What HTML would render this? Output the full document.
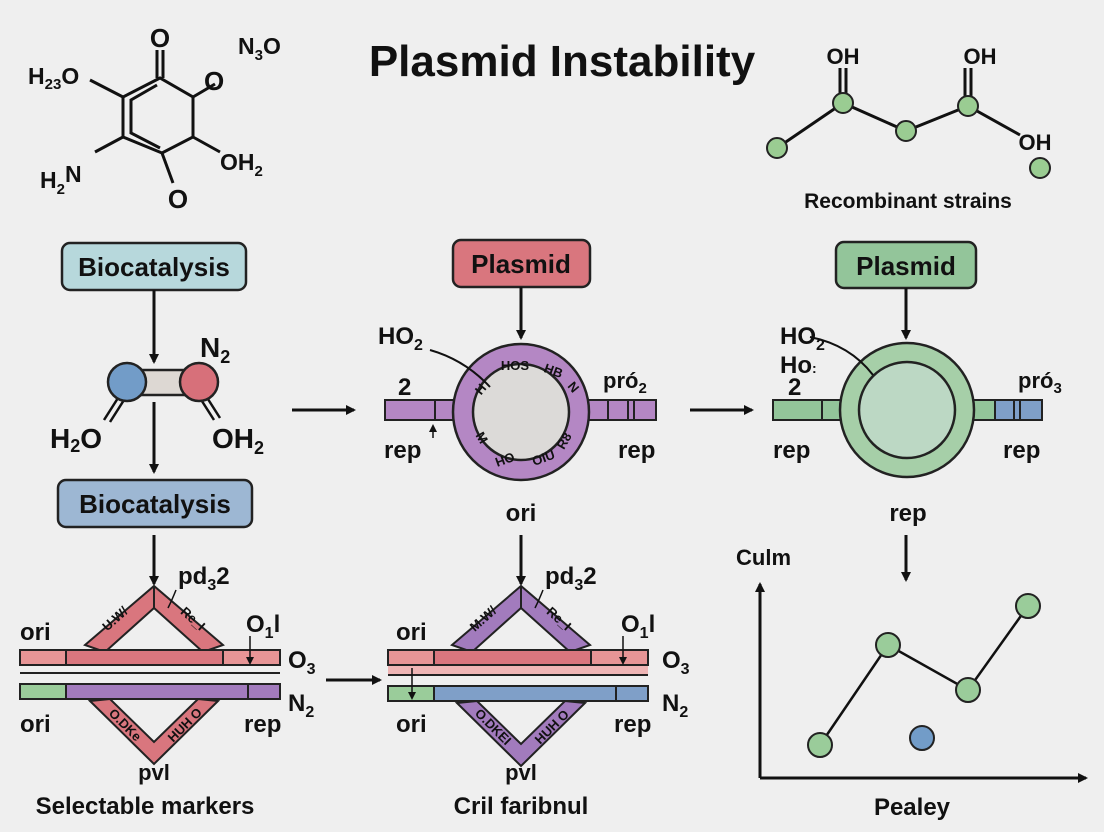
<!DOCTYPE html>
<html><head><meta charset="utf-8"><style>
html,body{margin:0;padding:0;background:#efefef;}
svg{display:block;font-family:"Liberation Sans",sans-serif;}
text{fill:#111;font-weight:bold;}
</style></head><body>
<svg width="1104" height="832" viewBox="0 0 1104 832" xmlns="http://www.w3.org/2000/svg">
<defs>
<marker id="ah" markerWidth="10" markerHeight="10" refX="8" refY="5" orient="auto" markerUnits="userSpaceOnUse">
<path d="M0,0 L10,5 L0,10 z" fill="#111"/></marker>
<marker id="ahs" markerWidth="8" markerHeight="8" refX="6" refY="4" orient="auto" markerUnits="userSpaceOnUse">
<path d="M0,0 L8,4 L0,8 z" fill="#111"/></marker>
</defs>
<rect width="1104" height="832" fill="#efefef"/>
<text x="562" y="76" font-size="44" text-anchor="middle">Plasmid Instability</text>

<!-- left molecule -->
<g stroke="#111" stroke-width="3" fill="none">
<polygon points="160,78 123,97 123,137 162,153 193,137 193,97"/>
<polyline points="157,85 131,100 131,133 160,148"/>
<line x1="157" y1="50" x2="157" y2="78"/><line x1="163" y1="50" x2="163" y2="78"/>
<line x1="123" y1="97" x2="90" y2="80"/>
<line x1="193" y1="97" x2="215" y2="84"/>
<line x1="193" y1="137" x2="220" y2="152"/>
<line x1="123" y1="137" x2="95" y2="152"/>
<line x1="162" y1="153" x2="173" y2="183"/>
</g>
<text x="160" y="47" font-size="26" text-anchor="middle">O</text>
<text x="28" y="84" font-size="23">H<tspan font-size="15" dy="5">23</tspan><tspan dy="-5">O</tspan></text>
<text x="238" y="54" font-size="23">N<tspan font-size="15" dy="6">3</tspan><tspan dy="-6">O</tspan></text>
<text x="204" y="90" font-size="26">O</text>
<text x="220" y="170" font-size="23">OH<tspan font-size="15" dy="6">2</tspan></text>
<text x="40" y="188" font-size="23">H<tspan font-size="15" dy="6">2</tspan><tspan dy="-12">N</tspan></text>
<text x="178" y="208" font-size="26" text-anchor="middle">O</text>

<!-- right molecule -->
<g stroke="#111" stroke-width="3" fill="none">
<polyline points="777,148 843,103 906,131 968,106 1020,135"/>
<line x1="840" y1="68" x2="840" y2="95"/><line x1="846" y1="68" x2="846" y2="95"/>
<line x1="965" y1="68" x2="965" y2="98"/><line x1="971" y1="68" x2="971" y2="98"/>
</g>
<g fill="#9acc92" stroke="#222" stroke-width="2">
<circle cx="777" cy="148" r="10"/><circle cx="843" cy="103" r="10"/><circle cx="906" cy="131" r="10"/><circle cx="968" cy="106" r="10"/><circle cx="1040" cy="168" r="10"/>
</g>
<text x="843" y="64" font-size="22" text-anchor="middle">OH</text>
<text x="980" y="64" font-size="22" text-anchor="middle">OH</text>
<text x="1035" y="150" font-size="22" text-anchor="middle">OH</text>
<text x="908" y="208" font-size="21" text-anchor="middle">Recombinant strains</text>

<!-- left column -->
<rect x="62" y="243" width="184" height="47" rx="8" fill="#b7d8dc" stroke="#222" stroke-width="2.5"/>
<text x="154" y="276" font-size="26" text-anchor="middle">Biocatalysis</text>
<line x1="154" y1="290" x2="154" y2="362" stroke="#111" stroke-width="3" marker-end="url(#ah)"/>
<g stroke="#111" stroke-width="2.5">
<line x1="118" y1="398" x2="104" y2="420"/><line x1="124" y1="400" x2="110" y2="422"/>
<line x1="200" y1="398" x2="214" y2="420"/><line x1="206" y1="396" x2="220" y2="418"/>
</g>
<rect x="138" y="370" width="50" height="25" fill="#ddd8d3" stroke="#222" stroke-width="2.5"/>
<circle cx="127" cy="382" r="19" fill="#729cc8" stroke="#222" stroke-width="2.5"/>
<circle cx="199" cy="382" r="19" fill="#d7707a" stroke="#222" stroke-width="2.5"/>
<text x="200" y="357" font-size="28">N<tspan font-size="18" dy="6">2</tspan></text>
<text x="50" y="448" font-size="28">H<tspan font-size="18" dy="4">2</tspan><tspan dy="-4">O</tspan></text>
<text x="212" y="448" font-size="28">OH<tspan font-size="18" dy="6">2</tspan></text>
<line x1="154" y1="402" x2="154" y2="472" stroke="#111" stroke-width="3" marker-end="url(#ah)"/>
<rect x="58" y="480" width="194" height="47" rx="8" fill="#9db7d3" stroke="#222" stroke-width="2.5"/>
<text x="155" y="513" font-size="26" text-anchor="middle">Biocatalysis</text>
<line x1="154" y1="535" x2="154" y2="584" stroke="#111" stroke-width="3" marker-end="url(#ah)"/>

<line x1="292" y1="410" x2="354" y2="410" stroke="#111" stroke-width="3" marker-end="url(#ah)"/>
<line x1="690" y1="410" x2="752" y2="410" stroke="#111" stroke-width="3" marker-end="url(#ah)"/>

<!-- middle plasmid -->
<rect x="453" y="240" width="137" height="47" rx="8" fill="#d9767e" stroke="#222" stroke-width="2.5"/>
<text x="521" y="273" font-size="26" text-anchor="middle">Plasmid</text>
<line x1="521" y1="287" x2="521" y2="338" stroke="#111" stroke-width="3" marker-end="url(#ah)"/>
<rect x="385" y="400" width="90" height="20" fill="#b487c4" stroke="#222" stroke-width="2"/>
<line x1="435" y1="400" x2="435" y2="420" stroke="#222" stroke-width="2"/>
<rect x="565" y="400" width="91" height="20" fill="#b487c4" stroke="#222" stroke-width="2"/>
<line x1="608" y1="400" x2="608" y2="420" stroke="#222" stroke-width="2"/><line x1="628" y1="400" x2="628" y2="420" stroke="#222" stroke-width="2"/><line x1="634" y1="400" x2="634" y2="420" stroke="#222" stroke-width="2"/>
<circle cx="521" cy="412" r="68" fill="#b487c4" stroke="#222" stroke-width="2.5"/>
<circle cx="521" cy="412" r="48" fill="#dcdad8" stroke="#222" stroke-width="2.5"/>
<g font-size="13" text-anchor="middle">
<text x="515" y="370">HOS</text><text x="552" y="375" transform="rotate(20 552 375)">HB</text><text x="484" y="392" transform="rotate(-50 484 392)">H</text><text x="570" y="390" transform="rotate(50 570 390)">N</text>
<text x="478" y="440" transform="rotate(60 478 440)">M</text><text x="505" y="465" transform="rotate(160 505 460)">OH</text><text x="545" y="462" transform="rotate(-20 545 462)">OIU</text><text x="568" y="443" transform="rotate(-60 568 443)">R8</text></g>
<path d="M430,350 Q465,360 490,387" stroke="#111" stroke-width="2" fill="none"/>
<text x="378" y="344" font-size="24">HO<tspan font-size="16" dy="6">2</tspan></text>
<text x="398" y="395" font-size="24">2</text>
<line x1="433" y1="438" x2="433" y2="426" stroke="#111" stroke-width="1.5" marker-end="url(#ahs)"/>
<text x="384" y="458" font-size="24">rep</text>
<text x="603" y="388" font-size="22">pró<tspan font-size="15" dy="5">2</tspan></text>
<text x="618" y="458" font-size="24">rep</text>
<text x="521" y="521" font-size="24" text-anchor="middle">ori</text>
<line x1="521" y1="535" x2="521" y2="584" stroke="#111" stroke-width="3" marker-end="url(#ah)"/>

<!-- right plasmid -->
<rect x="836" y="242" width="140" height="46" rx="8" fill="#93c59a" stroke="#222" stroke-width="2.5"/>
<text x="906" y="275" font-size="26" text-anchor="middle">Plasmid</text>
<line x1="906" y1="288" x2="906" y2="338" stroke="#111" stroke-width="3" marker-end="url(#ah)"/>
<rect x="773" y="400" width="90" height="20" fill="#93c59a" stroke="#222" stroke-width="2"/>
<line x1="822" y1="400" x2="822" y2="420" stroke="#222" stroke-width="2"/>
<rect x="950" y="400" width="92" height="20" fill="#93c59a" stroke="#222" stroke-width="2"/>
<rect x="995" y="400" width="47" height="20" fill="#7f9fc8" stroke="#222" stroke-width="2"/>
<line x1="1014" y1="400" x2="1014" y2="420" stroke="#222" stroke-width="2"/><line x1="1020" y1="400" x2="1020" y2="420" stroke="#222" stroke-width="2"/>
<circle cx="907" cy="410" r="67" fill="#a6cfa8" stroke="#222" stroke-width="2.5"/>
<circle cx="907" cy="410" r="48" fill="#bcd8c4" stroke="#222" stroke-width="2.5"/>
<path d="M810,337 Q850,345 873,375" stroke="#111" stroke-width="2" fill="none"/>
<text x="780" y="344" font-size="24">HO<tspan font-size="16" dy="6">2</tspan></text>
<text x="780" y="373" font-size="24">Ho<tspan font-size="14">:</tspan></text>
<text x="788" y="395" font-size="24">2</text>
<text x="773" y="458" font-size="24">rep</text>
<text x="1018" y="388" font-size="22">pró<tspan font-size="15" dy="5">3</tspan></text>
<text x="1003" y="458" font-size="24">rep</text>
<text x="908" y="521" font-size="24" text-anchor="middle">rep</text>
<line x1="906" y1="535" x2="906" y2="580" stroke="#111" stroke-width="3" marker-end="url(#ah)"/>

<!-- bottom left construct -->
<path d="M85,645 L154,586 L223,645 L203,652 L154,608 L105,652 Z" fill="#d9767e" stroke="#222" stroke-width="2"/>
<line x1="154" y1="586" x2="154" y2="608" stroke="#222" stroke-width="2"/>
<rect x="20" y="650" width="260" height="15" fill="#e79596" stroke="#222" stroke-width="2"/>
<rect x="66" y="650" width="157" height="15" fill="#d9767e" stroke="#222" stroke-width="2"/>
<line x1="20" y1="673" x2="280" y2="673" stroke="#222" stroke-width="2"/>
<rect x="20" y="684" width="260" height="15" fill="#a27bbd" stroke="#222" stroke-width="2"/>
<rect x="20" y="684" width="46" height="15" fill="#9acc9a" stroke="#222" stroke-width="2"/>
<line x1="248" y1="684" x2="248" y2="699" stroke="#222" stroke-width="2"/>
<path d="M90,701 L154,764 L218,701 L198,699 L154,742 L110,699 Z" fill="#d9767e" stroke="#222" stroke-width="2"/>
<line x1="250" y1="636" x2="250" y2="663" stroke="#111" stroke-width="1.5" marker-end="url(#ahs)"/>
<g font-size="13" text-anchor="middle"><text x="118" y="622" transform="rotate(-42 118 622)">U.W/</text><text x="190" y="622" transform="rotate(42 190 622)">Re_I</text>
<text x="122" y="728" transform="rotate(45 122 728)">O.DKe</text><text x="188" y="728" transform="rotate(-45 188 728)">HUH O</text></g>
<path d="M176,590 Q172,600 168,608" stroke="#111" stroke-width="1.5" fill="none"/>
<text x="178" y="584" font-size="24">pd<tspan font-size="16" dy="6">3</tspan><tspan dy="-6">2</tspan></text>
<text x="20" y="640" font-size="24">ori</text>
<text x="20" y="732" font-size="24">ori</text>
<text x="246" y="632" font-size="24">O<tspan font-size="16" dy="6">1</tspan><tspan dy="-6">l</tspan></text>
<text x="288" y="668" font-size="24">O<tspan font-size="16" dy="6">3</tspan></text>
<text x="288" y="711" font-size="24">N<tspan font-size="16" dy="6">2</tspan></text>
<text x="244" y="732" font-size="24">rep</text>
<text x="154" y="780" font-size="22" text-anchor="middle">pvl</text>
<text x="145" y="814" font-size="24" text-anchor="middle">Selectable markers</text>

<line x1="326" y1="680" x2="380" y2="680" stroke="#111" stroke-width="3" marker-end="url(#ah)"/>

<!-- bottom middle construct -->
<path d="M452,645 L521,586 L590,645 L570,652 L521,608 L472,652 Z" fill="#a27bbd" stroke="#222" stroke-width="2"/>
<line x1="521" y1="586" x2="521" y2="608" stroke="#222" stroke-width="2"/>
<rect x="388" y="650" width="260" height="15" fill="#e79596" stroke="#222" stroke-width="2"/>
<rect x="434" y="650" width="157" height="15" fill="#d9767e" stroke="#222" stroke-width="2"/>
<rect x="388" y="666" width="260" height="8" fill="#efb5b5" stroke="none"/>
<line x1="388" y1="675" x2="648" y2="675" stroke="#222" stroke-width="2"/>
<rect x="388" y="686" width="260" height="15" fill="#7f9fc8" stroke="#222" stroke-width="2"/>
<rect x="388" y="686" width="46" height="15" fill="#9acc9a" stroke="#222" stroke-width="2"/>
<line x1="616" y1="686" x2="616" y2="701" stroke="#222" stroke-width="2"/>
<path d="M457,703 L521,766 L585,703 L565,701 L521,744 L477,701 Z" fill="#a27bbd" stroke="#222" stroke-width="2"/>
<line x1="412" y1="668" x2="412" y2="698" stroke="#111" stroke-width="1.5" marker-end="url(#ahs)"/>
<line x1="623" y1="636" x2="623" y2="663" stroke="#111" stroke-width="1.5" marker-end="url(#ahs)"/>
<g font-size="13" text-anchor="middle"><text x="486" y="622" transform="rotate(-42 486 622)">M.W/</text><text x="556" y="622" transform="rotate(42 556 622)">Re_I</text>
<text x="490" y="730" transform="rotate(45 490 730)">O.DKEI</text><text x="555" y="730" transform="rotate(-45 555 730)">HUH O</text></g>
<path d="M543,590 Q539,600 535,608" stroke="#111" stroke-width="1.5" fill="none"/>
<text x="545" y="584" font-size="24">pd<tspan font-size="16" dy="6">3</tspan><tspan dy="-6">2</tspan></text>
<text x="396" y="640" font-size="24">ori</text>
<text x="396" y="732" font-size="24">ori</text>
<text x="621" y="632" font-size="24">O<tspan font-size="16" dy="6">1</tspan><tspan dy="-6">l</tspan></text>
<text x="662" y="668" font-size="24">O<tspan font-size="16" dy="6">3</tspan></text>
<text x="662" y="711" font-size="24">N<tspan font-size="16" dy="6">2</tspan></text>
<text x="614" y="732" font-size="24">rep</text>
<text x="521" y="780" font-size="22" text-anchor="middle">pvl</text>
<text x="521" y="814" font-size="24" text-anchor="middle">Cril faribnul</text>

<!-- graph -->
<line x1="760" y1="778" x2="760" y2="584" stroke="#111" stroke-width="3" marker-end="url(#ah)"/>
<line x1="760" y1="778" x2="1086" y2="778" stroke="#111" stroke-width="3" marker-end="url(#ah)"/>
<text x="736" y="565" font-size="22">Culm</text>
<polyline points="820,745 888,645 968,690 1028,606" stroke="#111" stroke-width="2.5" fill="none"/>
<g stroke="#222" stroke-width="2"><circle cx="820" cy="745" r="12" fill="#9acc9a"/><circle cx="888" cy="645" r="12" fill="#9acc9a"/><circle cx="968" cy="690" r="12" fill="#9acc9a"/><circle cx="1028" cy="606" r="12" fill="#9acc9a"/><circle cx="922" cy="738" r="12" fill="#729cc8"/></g>
<text x="912" y="815" font-size="24" text-anchor="middle">Pealey</text>
</svg>
</body></html>
